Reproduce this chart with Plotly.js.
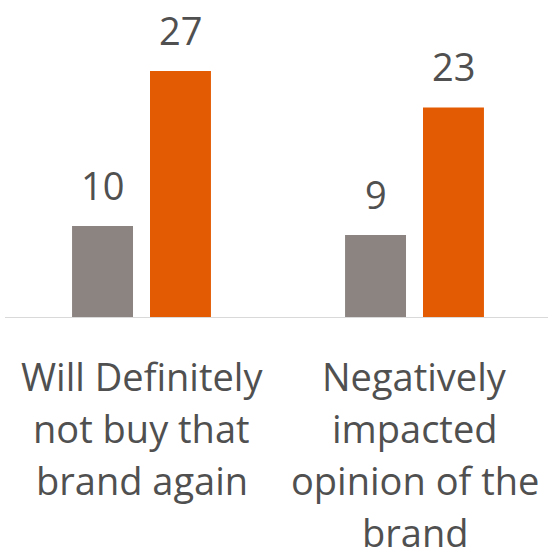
<!DOCTYPE html>
<html>
<head>
<meta charset="utf-8">
<script src="https://cdn.plot.ly/plotly-3.0.1.min.js"></script>
<style>html,body{margin:0;padding:0;background:#fff;}#chart{width:548px;height:560px;}</style>
</head>
<body>
<div id="chart"></div>
<script>
const categories = ["Will Definitely not buy that brand again", "Negatively impacted opinion of the brand"];
const categoryLines = [
  ["Will Definitely", "not buy that", "brand again"],
  ["Negatively", "impacted", "opinion of the", "brand"]
];
const grayValues = [10, 9];
const orangeValues = [27, 23];

const FONT = '"Open Sans", "Noto Sans", sans-serif';
const TEXT_COLOR = '#505050';
const series = [
  {values: grayValues, color: '#8b8480', shift: -39},
  {values: orangeValues, color: '#e35b02', shift: 39}
];

const traces = series.map(s => ({
  type: 'bar',
  x: categories,
  y: s.values,
  marker: {color: s.color, line: {width: 0}},
  hoverinfo: 'none'
}));

const annotations = [];
series.forEach(s => {
  s.values.forEach((v, i) => {
    annotations.push({
      x: categories[i], y: v, xref: 'x', yref: 'y',
      text: String(v), showarrow: false,
      xanchor: 'center', yanchor: 'bottom',
      xshift: s.shift, yshift: 13,
      font: {family: FONT, size: 38, color: TEXT_COLOR}
    });
  });
});
categoryLines.forEach((lines, i) => {
  lines.forEach((line, j) => {
    annotations.push({
      x: categories[i], y: 0, xref: 'x', yref: 'paper',
      text: line, showarrow: false,
      xanchor: 'center', yanchor: 'top',
      yshift: -31 - 52 * j,
      font: {family: FONT, size: 38, color: TEXT_COLOR}
    });
  });
});

const layout = {
  width: 548, height: 560,
  margin: {l: 5, r: 0, t: 20, b: 243},
  paper_bgcolor: '#ffffff', plot_bgcolor: '#ffffff',
  showlegend: false,
  barmode: 'group',
  bargap: 0.429,
  bargroupgap: 0.218,
  xaxis: {
    type: 'category', range: [-0.5, 1.489],
    showline: true, linecolor: '#d9d9d9', linewidth: 1,
    showticklabels: false, ticks: '', showgrid: false, zeroline: false, fixedrange: true
  },
  yaxis: {range: [0, 32.6], visible: false, showgrid: false, zeroline: false, fixedrange: true},
  annotations: annotations
};

Plotly.newPlot('chart', traces, layout, {displayModeBar: false, staticPlot: true});
</script>
</body>
</html>
